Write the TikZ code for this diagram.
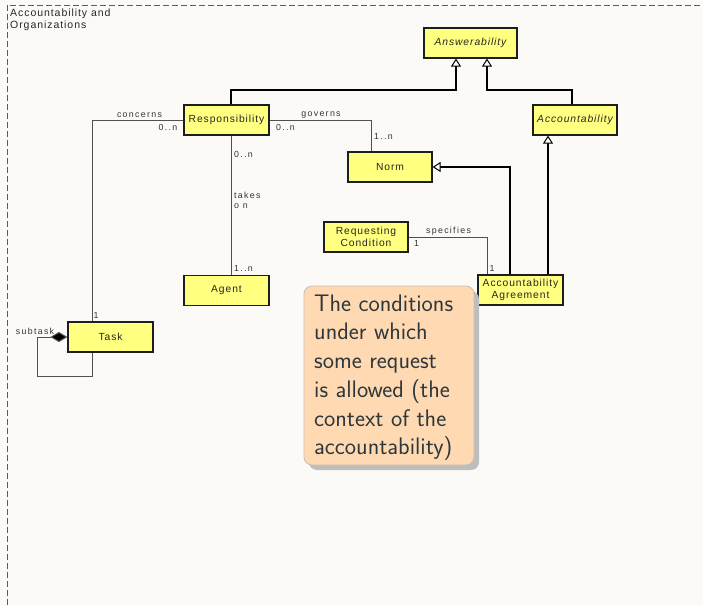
\documentclass[tikz,border=0pt]{standalone}
\usepackage{fontspec}
\setmainfont{Liberation Sans}
\newfontfamily\umlfont[LetterSpace=9]{Liberation Sans}
\newfontfamily\lblfont[LetterSpace=15]{Liberation Sans}
\usetikzlibrary{arrows.meta,calc}
\definecolor{bgc}{RGB}{251,250,246}
\definecolor{umly}{RGB}{255,255,128}
\definecolor{boxline}{RGB}{30,30,30}
\definecolor{assocc}{RGB}{80,80,80}
\definecolor{notefill}{RGB}{255,217,178}
\definecolor{noteline}{RGB}{200,190,182}
\definecolor{notetext}{RGB}{45,55,60}
\definecolor{shadowc}{RGB}{190,190,190}
\definecolor{framec}{RGB}{90,90,90}
\tikzset{
  umlbox/.style={draw=boxline, line width=1.2pt, fill=umly, minimum width=85pt, minimum height=30pt, inner sep=1pt, align=center, font=\umlfont\fontsize{10.3}{12}\selectfont, text=black!85},
  abstractbox/.style={umlbox, font=\umlfont\itshape\fontsize{10.3}{12}\selectfont},
  genline/.style={line width=1.2pt, draw=black, -{Triangle[length=8pt,width=10pt,fill=white,line width=1pt]}},
  assoc/.style={line width=1pt, draw=assocc},
  lbl/.style={font=\lblfont\fontsize{8.8}{10}\selectfont, text=black!80, inner sep=0pt},
}
\begin{document}
\begin{tikzpicture}[x=1pt,y=-1pt]
\useasboundingbox (0,0) rectangle (703,605);
\fill[bgc] (0,0) rectangle (703,605);
\draw[framec, line width=1pt, dash pattern=on 6pt off 3pt] (7,605) -- (7,5) -- (703,5);
\node[anchor=north west, align=left, inner sep=0pt, font=\umlfont\fontsize{10.5}{12}\selectfont, text=black!85] (title) at (10,9) {Accountability and\\Organizations};

% classes
\node[abstractbox, minimum width=93pt] (answ) at (470.5,43) {Answerability};
\node[abstractbox, minimum width=84pt] (acc) at (575,120) {Accountability};
\node[umlbox] (resp) at (226.5,120) {Responsibility};
\node[umlbox, minimum width=84pt] (norm) at (390,167) {Norm};
\node[umlbox] (agent) at (226.5,290.5) {Agent};
\node[umlbox, minimum width=84pt] (rc) at (366,237) {Requesting\\Condition};
\node[umlbox] (aa) at (520.5,290) {Accountability\\Agreement};
\node[umlbox] (task) at (110.5,337) {Task};

% generalizations
\draw[genline] ([xshift=4.5pt]resp.north) |- (456,90) -- ([xshift=-14.5pt]answ.south);
\draw[genline] ([xshift=-3pt]acc.north) |- (487,90) -- ([xshift=16.5pt]answ.south);
\draw[genline] ([xshift=-10.5pt]aa.north) |- (norm.east);
\draw[genline] ([xshift=27.5pt]aa.north) -- ([xshift=27.5pt]aa.north |- acc.south);

% associations
\draw[assoc] (resp.west) -| ([xshift=-18.5pt]task.north);
\draw[assoc] (resp.east) -| ([xshift=-19pt]norm.north);
\draw[assoc] ([xshift=4.5pt]resp.south) -- ([xshift=4.5pt]agent.north);
\draw[assoc] (rc.east) -| ([xshift=-33.5pt]aa.north);
\draw[assoc, {Diamond[length=17pt,width=10pt,fill=black]}-] (task.west) -- ++(-30,0) |- (92,376) -- ([xshift=-18.5pt]task.south);

% labels
\node[lbl] (l1) at (139.5,115) {concerns};
\node[lbl] (l2) at (168,127) {0..n};
\node[lbl] (l3) at (321,115) {governs};
\node[lbl] (l4) at (285.5,127) {0..n};
\node[lbl, anchor=west] (l5) at (374,136) {1..n};
\node[lbl, anchor=west] (l6) at (234,154) {0..n};
\node[lbl, anchor=north west, align=left] (l7) at (234,192) {takes\\o n};
\node[lbl, anchor=west] (l8) at (234,268) {1..n};
\node[lbl] (l9) at (448.5,231) {specifies};
\node[lbl] (l10) at (416.5,243) {1};
\node[lbl] (l11) at (492,268) {1};
\node[lbl] (l12) at (35,331) {subtask};
\node[lbl] (l13) at (96,315) {1};

% note
\fill[shadowc, rounded corners=8pt] (309,291) rectangle (479,470);
\draw[noteline, fill=notefill, line width=0.8pt, rounded corners=8pt] (304,286) rectangle (474,465);
\node[anchor=north west, align=left, inner sep=0pt, text=notetext, font=\sffamily\fontsize{23.9}{28.7}\selectfont] (note) at (314,294.5) {The conditions\\under which\\some request\\is allowed (the\\context of the\\accountability)};
\end{tikzpicture}
\end{document}
